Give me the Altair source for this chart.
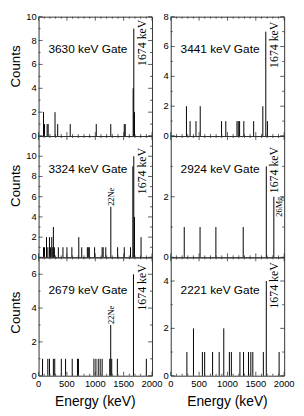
import altair as alt
import pandas as pd

GATES = ["3630 keV Gate", "3441 keV Gate", "3324 keV Gate",
         "2924 keV Gate", "2679 keV Gate", "2221 keV Gate"]
PEAK_LABEL = "1674 keV"
Y_TITLE = "Counts"
X_TITLE = "Energy (keV)"

E_3630 = [87, 105, 151, 169, 290, 337, 558, 1017, 1273, 1511, 1528, 1668, 1679, 1691]
C_3630 = [2, 1, 1, 1, 2, 1, 1, 1, 1, 1, 1, 4, 9, 2]

E_3441 = [277, 341, 445, 520, 896, 971, 1168, 1191, 1214, 1289, 1462, 1624, 1676, 1705]
C_3441 = [2, 1, 1, 2, 1, 1, 1, 1, 1, 1, 1, 2, 7, 1]

E_3324 = [87, 105, 140, 163, 192, 209, 232, 250, 261, 279, 349, 430, 500, 587, 709, 761,
          860, 877, 895, 988, 1121, 1139, 1185, 1274, 1394, 1511, 1621, 1662, 1679, 1691, 1807]
C_3324 = [1, 1, 2, 1, 2, 1, 2, 1, 3, 1, 1, 1, 1, 1, 2, 1,
          1, 1, 1, 1, 1, 1, 1, 5, 1, 1, 1, 9, 10, 4, 2]

E_2924 = [238, 517, 796, 1278, 1685, 1818]
C_2924 = [1, 1, 1, 1, 3, 2]

E_2679 = [70, 163, 192, 261, 285, 401, 476, 593, 686, 703, 976, 1011, 1052, 1086, 1121,
          1255, 1272, 1290, 1389, 1673, 1900]
C_2679 = [1, 1, 1, 1, 1, 1, 1, 1, 1, 1, 1, 1, 1, 1, 1,
          1, 3, 1, 1, 6, 1]

E_2221 = [285, 401, 558, 598, 738, 854, 935, 1034, 1069, 1220, 1284, 1371, 1412, 1447,
          1633, 1685, 1911]
C_2221 = [1, 2, 1, 1, 1, 1, 2, 1, 1, 1, 1, 1, 1, 1,
          1, 4, 1]

ENERGIES = [E_3630, E_3441, E_3324, E_2924, E_2679, E_2221]
COUNTS = [C_3630, C_3441, C_3324, C_2924, C_2679, C_2221]
YMAX = [10, 8, 12, 4, 7, 5]
YLABELS = [[0, 2, 4, 6, 8, 10], [0, 2, 4, 6, 8], [0, 2, 4, 6, 8, 10],
           [0, 2], [0, 2, 4, 6], [0, 2, 4]]

ISO_PANEL = [2, 4, 3]
ISO_E = [1274, 1272, 1818]
ISO_C = [5, 3, 2]
ISO_TEXT = ["22Ne", "22Ne", "26Mg"]

XMAJ = [0, 500, 1000, 1500, 2000]
XMIN = [v for v in range(0, 2001, 100) if v % 500]

W = 115
ROW_H = [121, 123, 120]
PEAK_Y = [3, 5, 12, 11, 7, 5]
YTITLE_DY = [-10, -11, -4]
FRAME = "#333333"
SANS = "Liberation Sans"
SERIF = "Liberation Serif"


def rule(df, color=FRAME, sw=0.8):
    return alt.Chart(df).mark_rule(color=color, strokeWidth=sw)


def txt(df, **kw):
    base = dict(font=SANS, color="black")
    base.update(kw)
    return alt.Chart(df).mark_text(**base)


def panel(i):
    row, col = divmod(i, 2)
    H = ROW_H[row]
    xs = alt.Scale(domain=[0, 2000], nice=False, zero=False)
    ys = alt.Scale(domain=[0, YMAX[i]], nice=False)
    bottom = row == 2
    left = col == 0

    df = pd.DataFrame({"E": ENERGIES[i], "C": COUNTS[i], "Z": [0] * len(ENERGIES[i])})
    bars = rule(df, color="black", sw=1).encode(
        x=alt.X("E:Q", scale=xs, axis=None),
        y=alt.Y("C:Q", scale=ys, axis=None),
        y2="Z:Q",
    )
    layers = [bars]

    # inward ticks on all four sides
    for vals, L in ((XMAJ, 4), (XMIN, 2)):
        d = pd.DataFrame({"v": vals})
        ex = alt.X("v:Q", scale=xs, axis=None)
        layers.append(rule(d).encode(x=ex, y=alt.value(H), y2=alt.value(H - L)))
        layers.append(rule(d).encode(x=ex, y=alt.value(0), y2=alt.value(L)))
    ymaj = list(range(0, YMAX[i] + 1, 2))
    ymin = [v for v in range(YMAX[i] + 1) if v % 2]
    for vals, L in ((ymaj, 4), (ymin, 2)):
        d = pd.DataFrame({"v": vals})
        ey = alt.Y("v:Q", scale=ys, axis=None)
        layers.append(rule(d).encode(y=ey, x=alt.value(0), x2=alt.value(L)))
        layers.append(rule(d).encode(y=ey, x=alt.value(W), x2=alt.value(W - L)))

    # y tick labels
    layers.append(txt(pd.DataFrame({"v": YLABELS[i]}), align="right", baseline="middle",
                      fontSize=9.5).encode(
        y=alt.Y("v:Q", scale=ys, axis=None), x=alt.value(-2),
        text=alt.Text("v:Q", format="d")))
    if left:
        layers.append(txt(pd.DataFrame({"t": [Y_TITLE]}), angle=270, align="center",
                          baseline="middle", fontSize=13.5).encode(
            x=alt.value(-23), y=alt.value(H / 2 + YTITLE_DY[row]), text="t:N"))
    if bottom:
        layers.append(txt(pd.DataFrame({"v": XMAJ}), align="center", baseline="top",
                          fontSize=9.5).encode(
            x=alt.X("v:Q", scale=xs, axis=None), y=alt.value(H + 3),
            text=alt.Text("v:Q", format="d")))
        layers.append(txt(pd.DataFrame({"t": [X_TITLE]}), align="center",
                          baseline="middle", fontSize=14).encode(
            x=alt.value(W / 2), y=alt.value(H + 27), text="t:N"))

    layers.append(txt(pd.DataFrame({"t": [GATES[i]]}), align="left", baseline="middle",
                      fontSize=12).encode(x=alt.value(10), y=alt.value(33), text="t:N"))
    layers.append(txt(pd.DataFrame({"t": [PEAK_LABEL]}), align="right", baseline="middle",
                      angle=270, font=SERIF, fontSize=12).encode(
        x=alt.value(105), y=alt.value(PEAK_Y[i]), text="t:N"))

    for p, e, c, t in zip(ISO_PANEL, ISO_E, ISO_C, ISO_TEXT):
        if p != i:
            continue
        d = pd.DataFrame({"E": [e], "C": [c], "t": [t]})
        if t == "26Mg":
            mk = dict(align="right", dy=5, dx=0)
        else:
            mk = dict(align="left", dx=1)
        layers.append(txt(d, baseline="middle", angle=270, font=SERIF, fontSize=8.5, **mk)
                      .encode(x=alt.X("E:Q", scale=xs, axis=None),
                              y=alt.Y("C:Q", scale=ys, axis=None), text="t:N"))

    return alt.layer(*layers).properties(width=W, height=H)


chart = alt.concat(*[panel(i) for i in range(6)], columns=2,
                   spacing={"row": 0, "column": 19}, bounds="flush").properties(
    padding={"left": 0, "top": 0, "right": 0, "bottom": 0},
).configure_view(stroke=FRAME, strokeWidth=1)

chart.save("out.html", embed_options={"renderer": "svg", "actions": False})
